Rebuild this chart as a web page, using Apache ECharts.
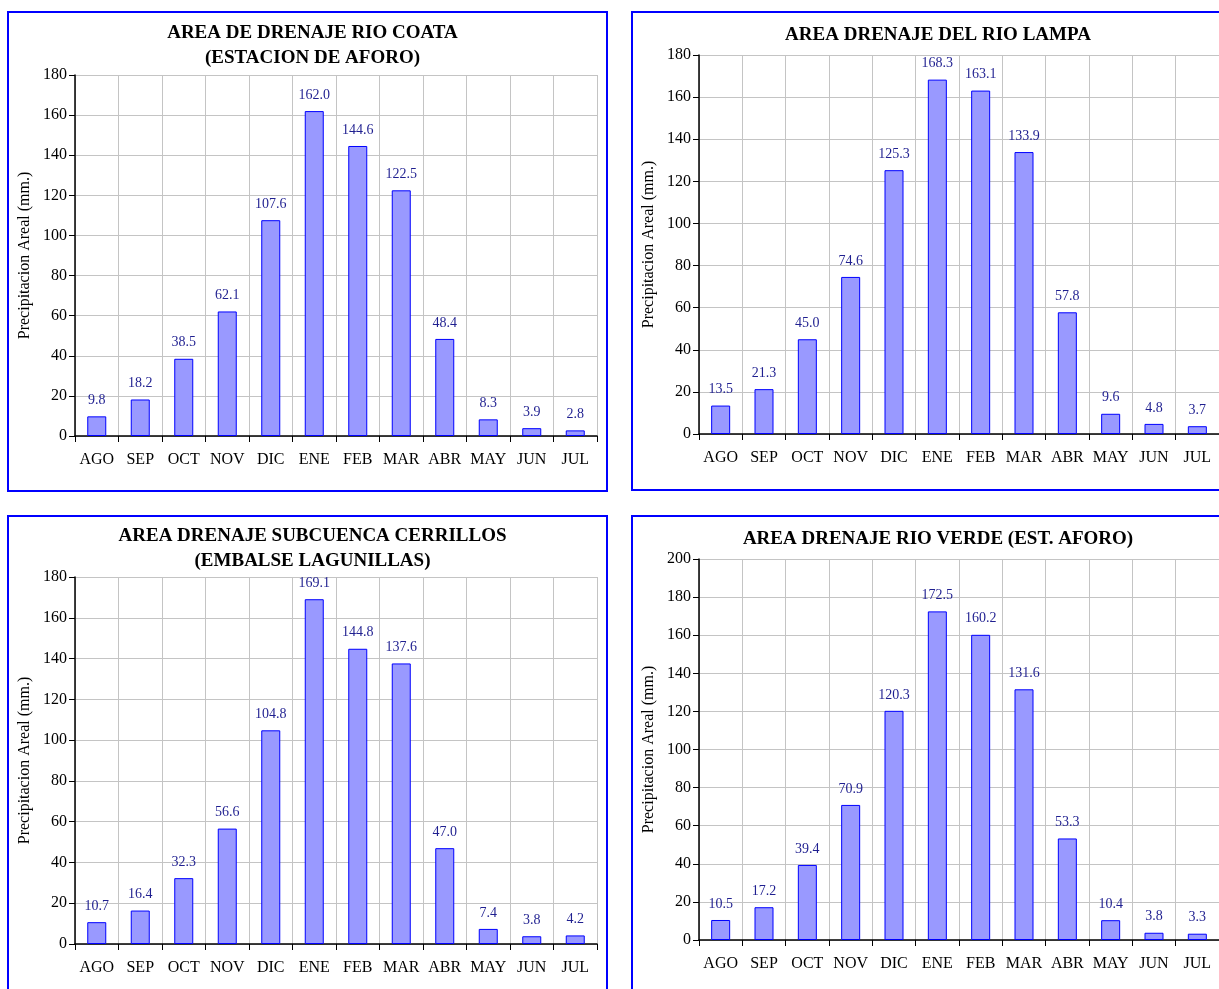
<!DOCTYPE html>
<html>
<head>
<meta charset="utf-8">
<script src="https://cdn.jsdelivr.net/npm/echarts@6/dist/echarts.min.js"></script>
<style>
  html, body { margin: 0; padding: 0; background: #fff; }
  #chart { width: 1219px; height: 989px; }
</style>
</head>
<body>
<div id="chart"></div>
<script>
const months = ['AGO', 'SEP', 'OCT', 'NOV', 'DIC', 'ENE', 'FEB', 'MAR', 'ABR', 'MAY', 'JUN', 'JUL'];

const coata = [9.8, 18.2, 38.5, 62.1, 107.6, 162.0, 144.6, 122.5, 48.4, 8.3, 3.9, 2.8];
const lampa = [13.5, 21.3, 45.0, 74.6, 125.3, 168.3, 163.1, 133.9, 57.8, 9.6, 4.8, 3.7];
const cerrillos = [10.7, 16.4, 32.3, 56.6, 104.8, 169.1, 144.8, 137.6, 47.0, 7.4, 3.8, 4.2];
const verde = [10.5, 17.2, 39.4, 70.9, 120.3, 172.5, 160.2, 131.6, 53.3, 10.4, 3.8, 3.3];

const titles = [
  'AREA DE DRENAJE RIO COATA\n(ESTACION DE AFORO)',
  'AREA DRENAJE DEL RIO LAMPA',
  'AREA DRENAJE SUBCUENCA CERRILLOS\n(EMBALSE LAGUNILLAS)',
  'AREA DRENAJE RIO VERDE (EST. AFORO)',
];
const yMax = [180, 180, 180, 200];

const FONT = '"Liberation Serif", "DejaVu Serif", serif';

// panel boxes [left, top, right, bottom] and plot areas
const boxes = [
  [8, 12, 607, 491],
  [632, 12, 1240, 490],
  [8, 516, 607, 1010],
  [632, 516, 1240, 1010],
];
const grids = [
  { left: 75, top: 75, width: 522, height: 361 },
  { left: 699, top: 55, width: 520, height: 379 },
  { left: 75, top: 577, width: 522, height: 367 },
  { left: 699, top: 559, width: 520, height: 381 },
];
const titleTops = [16, 18, 519, 522];
const allData = [coata, lampa, cerrillos, verde];

const myChart = echarts.init(document.getElementById('chart'));

const option = {
  backgroundColor: '#fff',
  animation: false,
  textStyle: { fontFamily: FONT },
  title: titles.map((t, i) => ({
    text: t,
    left: (boxes[i][0] + Math.min(boxes[i][2], 1234)) / 2,
    top: titleTops[i],
    textAlign: 'center',
    textStyle: {
      fontFamily: FONT,
      fontSize: 19,
      fontWeight: 'bold',
      color: '#000',
      lineHeight: 25,
    },
  })),
  graphic: boxes.map(b => ({
    type: 'rect',
    shape: { x: b[0], y: b[1], width: b[2] - b[0], height: b[3] - b[1] },
    style: { fill: 'none', stroke: '#0000ff', lineWidth: 2 },
    silent: true,
  })),
  grid: grids,
  xAxis: grids.map((g, i) => ({
    type: 'category',
    gridIndex: i,
    data: months,
    axisLine: { lineStyle: { color: '#000', width: 1.5 } },
    axisTick: { show: true, length: 6, lineStyle: { color: '#000' } },
    axisLabel: { color: '#000', fontSize: 16, fontFamily: FONT, margin: 16, interval: 0 },
    splitLine: { show: true, lineStyle: { color: '#c4c4c4', width: 1 } },
  })),
  yAxis: grids.map((g, i) => ({
    type: 'value',
    gridIndex: i,
    min: 0,
    max: yMax[i],
    interval: 20,
    name: 'Precipitacion Areal (mm.)',
    nameLocation: 'middle',
    nameGap: 42,
    nameTextStyle: { color: '#000', fontSize: 16, fontFamily: FONT },
    axisLine: { show: true, lineStyle: { color: '#000', width: 1.5 } },
    axisTick: { show: true, length: 6, lineStyle: { color: '#000' } },
    axisLabel: { color: '#000', fontSize: 16, fontFamily: FONT, margin: 8 },
    splitLine: { show: true, lineStyle: { color: '#c4c4c4', width: 1 } },
  })),
  series: allData.map((d, i) => ({
    type: 'bar',
    xAxisIndex: i,
    yAxisIndex: i,
    data: d,
    barWidth: 19,
    itemStyle: { color: '#9999ff', borderColor: '#0000ff', borderWidth: 1 },
    label: {
      show: true,
      position: 'top',
      distance: 9,
      color: '#1f1f90',
      fontSize: 14,
      fontFamily: FONT,
      formatter: p => p.value.toFixed(1),
    },
  })),
};

myChart.setOption(option);
window.addEventListener('resize', function () {
  myChart.resize();
});
</script>
</body>
</html>
